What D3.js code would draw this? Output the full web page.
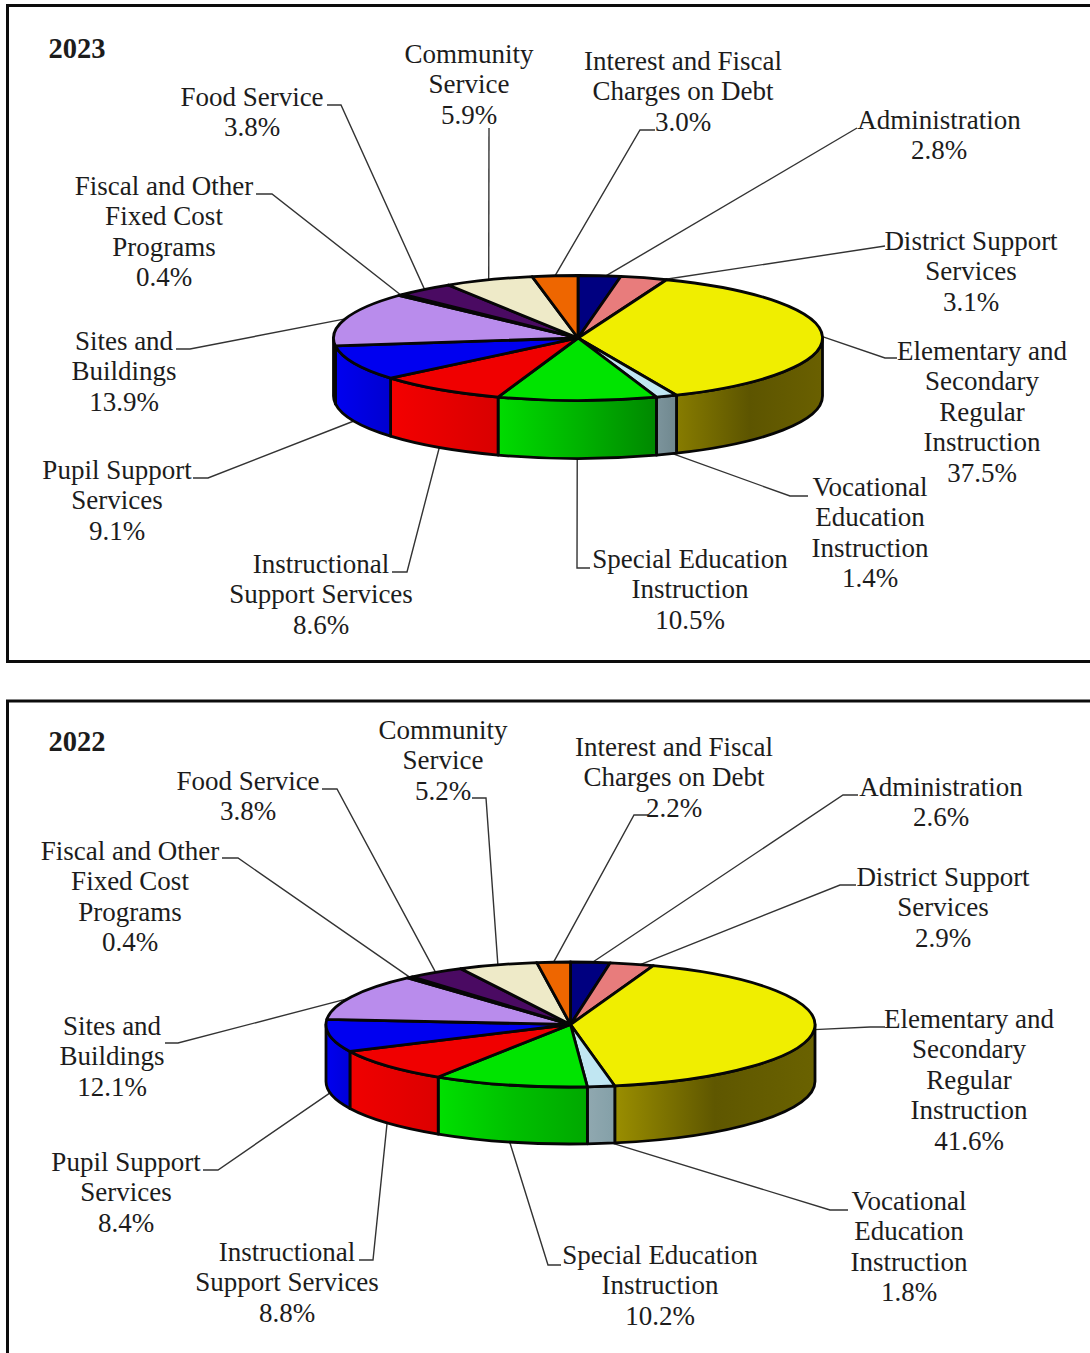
<!DOCTYPE html>
<html>
<head>
<meta charset="utf-8">
<script src="https://cdn.jsdelivr.net/npm/d3@7"></script>
<style>
  body { margin: 0; background: #fff; }
  svg { display: block; }
  text { font-family: "Liberation Serif", serif; fill: #1c1c1c; }
</style>
</head>
<body>
<svg id="chart"></svg>
<script>
// Chart data, clockwise from 12 o'clock
const categories = [
    ['Administration'],
    ['District Support', 'Services'],
    ['Elementary and', 'Secondary', 'Regular', 'Instruction'],
    ['Vocational', 'Education', 'Instruction'],
    ['Special Education', 'Instruction'],
    ['Instructional', 'Support Services'],
    ['Pupil Support', 'Services'],
    ['Sites and', 'Buildings'],
    ['Fiscal and Other', 'Fixed Cost', 'Programs'],
    ['Food Service'],
    ['Community', 'Service'],
    ['Interest and Fiscal', 'Charges on Debt']
];
const values2023 = [2.8, 3.1, 37.5, 1.4, 10.5, 8.6, 9.1, 13.9, 0.4, 3.8, 5.9, 3.0];
const values2022 = [2.6, 2.9, 41.6, 1.8, 10.2, 8.8, 8.4, 12.1, 0.4, 3.8, 5.2, 2.2];

// Slice colours for the top face
const topColors = ['#000080', '#e87c7c', '#f0ee00', '#c0e6f2', '#00e400', '#f00000',
    '#0000f0', '#b98cec', '#b98cec', '#4a0a62', '#eeeac8', '#ee6600'];

// Side wall gradients (left to right), only front slices use them
const sideColors2023 = {
    2: ['#877c00', '#5d5500', '#6a6000'],
    3: ['#7c949c', '#70888f'],
    4: ['#00dc00', '#00b400', '#008800'],
    5: ['#f40000', '#d80000'],
    6: ['#0000f0', '#0000d0'],
    7: ['#0000a0', '#0000a0']
};
const sideColors2022 = {
    2: ['#9a8e00', '#5f5700', '#6a6200'],
    3: ['#90a8b0', '#84a0a8'],
    4: ['#00e000', '#00c000', '#00a800'],
    5: ['#f00000', '#dc0000'],
    6: ['#0000f0', '#0000d8']
};

// Label layout: [centre x, first line centre y]
const labelPos2023 = [[939, 120], [971, 241], [982, 351], [870, 487], [690, 559], [321, 564],
    [117, 470], [124, 341], [164, 186], [252, 97], [469, 54], [683, 61]];
const labelPos2022 = [[941, 787], [943, 877], [969, 1019], [909, 1201], [660, 1255], [287, 1252],
    [126, 1162], [112, 1026], [130, 851], [248, 781], [443, 730], [674, 747]];

// Leader line bends: [[elbow x, y], [end x, y]] next to each label
const leaderPos2023 = [[[857, 128]], [[885, 246]], [[885, 358], [897, 358]], [[790, 496], [808, 496]],
    [[577, 568], [590, 568]], [[407, 572], [392, 572]], [[208, 478], [193, 478]], [[190, 349], [176, 349]],
    [[272, 194], [256, 194]], [[341, 105], [327, 105]], [[489, 128]], [[640, 130], [655, 130]]];
const leaderPos2022 = [[[843, 795], [858, 795]], [[840, 885], [856, 885]], [[870, 1027], [885, 1027]],
    [[830, 1210], [848, 1210]], [[548, 1265], [561, 1265]], [[373, 1260], [359, 1260]],
    [[218, 1170], [203, 1170]], [[178, 1043], [165, 1043]], [[238, 858], [222, 858]],
    [[337, 789], [322, 789]], [[486, 798], [472, 798]], [[634, 815], [648, 815]]];

// Small shift (in degrees) of where a leader meets the pie
const leaderNudge2023 = [1.5, 5, 0, -1.5, 0, 0, 0, 0, 0, 0, 0, 0];
const leaderNudge2022 = [0.5, 2, 0, -2.6, 0, 0, 0, -2, 0, 0, 0, 0];

const width = 1090;
const height = 1353;
const rx = 244.5;
const ry = 62.5;
const lineHeight = 30.4;

const svg = d3.select('#chart').attr('width', width).attr('height', height);
const defs = svg.append('defs');

// Outer frames, both run off the right edge, the second one also off the bottom
svg.append('rect').attr('x', 7.5).attr('y', 5.5).attr('width', 1100).attr('height', 656)
    .attr('fill', 'none').attr('stroke', '#0c0c0c').attr('stroke-width', 3);
svg.append('rect').attr('x', 7.5).attr('y', 701).attr('width', 1100).attr('height', 700)
    .attr('fill', 'none').attr('stroke', '#0c0c0c').attr('stroke-width', 3);

function drawPie(year, values, sideColors, labelPos, leaderPos, nudge, cx, cy, depth, titleY) {
    const pie = d3.pie().sort(null).value(d => d);
    const slices = pie(values);

    // Project a pie angle onto the ellipse
    const px = a => cx + rx * Math.sin(a);
    const py = a => cy - ry * Math.cos(a);

    const g = svg.append('g');

    // Leader lines go under the pie
    const line = d3.line();
    slices.forEach((s, i) => {
        const mid = (s.startAngle + s.endAngle) / 2 + nudge[i] * Math.PI / 180;
        // Leaders between 100 and 265 degrees leave from the bottom rim
        const deg = mid * 180 / Math.PI;
        const front = deg > 100 && deg < 265;
        const start = [px(mid), py(mid) + (front ? depth : 0)];
        g.append('path')
            .attr('d', line([start, ...leaderPos[i]]))
            .attr('fill', 'none')
            .attr('stroke', '#333')
            .attr('stroke-width', 1.4);
    });

    // Side walls, only the part of a slice in the front half is visible
    slices.forEach((s, i) => {
        const a0 = Math.max(s.startAngle, Math.PI / 2);
        const a1 = Math.min(s.endAngle, Math.PI * 3 / 2);
        if (a1 <= a0) return;
        const stops = sideColors[i];
        const gradId = `side-${year}-${i}`;
        const grad = defs.append('linearGradient')
            .attr('id', gradId)
            .attr('gradientUnits', 'userSpaceOnUse')
            .attr('x1', Math.min(px(a0), px(a1))).attr('x2', Math.max(px(a0), px(a1)))
            .attr('y1', 0).attr('y2', 0);
        // Colours are listed left to right
        stops.forEach((c, k) => {
            grad.append('stop').attr('offset', k / (stops.length - 1)).attr('stop-color', c);
        });
        const d = `M${px(a0)},${py(a0)}` +
            `A${rx},${ry} 0 0 1 ${px(a1)},${py(a1)}` +
            `L${px(a1)},${py(a1) + depth}` +
            `A${rx},${ry} 0 0 0 ${px(a0)},${py(a0) + depth}Z`;
        g.append('path')
            .attr('d', d)
            .attr('fill', `url(#${gradId})`)
            .attr('stroke', '#060606')
            .attr('stroke-width', 2.8)
            .attr('stroke-linejoin', 'round');
    });

    // Top face, a flattened d3.arc
    const arc = d3.arc().innerRadius(0).outerRadius(rx);
    g.append('g')
        .attr('transform', `translate(${cx},${cy}) scale(1,${ry / rx})`)
        .selectAll('path')
        .data(slices)
        .join('path')
        .attr('d', arc)
        .attr('fill', (d, i) => topColors[i])
        .attr('stroke', '#060606')
        .attr('stroke-width', 2.8)
        .attr('stroke-linejoin', 'round')
        .attr('vector-effect', 'non-scaling-stroke');

    // Labels
    slices.forEach((s, i) => {
        const lines = [...categories[i], `${values[i].toFixed(1)}%`];
        const text = g.append('text')
            .attr('text-anchor', 'middle')
            .attr('font-size', 27);
        lines.forEach((t, k) => {
            text.append('tspan')
                .attr('x', labelPos[i][0])
                .attr('y', labelPos[i][1] + 9 + k * lineHeight)
                .text(t);
        });
    });

    // Year title
    g.append('text')
        .attr('x', 48.5)
        .attr('y', titleY)
        .attr('font-size', 28.5)
        .attr('font-weight', 'bold')
        .text(year);
}

drawPie('2023', values2023, sideColors2023, labelPos2023, leaderPos2023, leaderNudge2023, 578, 338, 58, 58);
drawPie('2022', values2022, sideColors2022, labelPos2022, leaderPos2022, leaderNudge2022, 570.5, 1024.5, 57, 751);
</script>
</body>
</html>
